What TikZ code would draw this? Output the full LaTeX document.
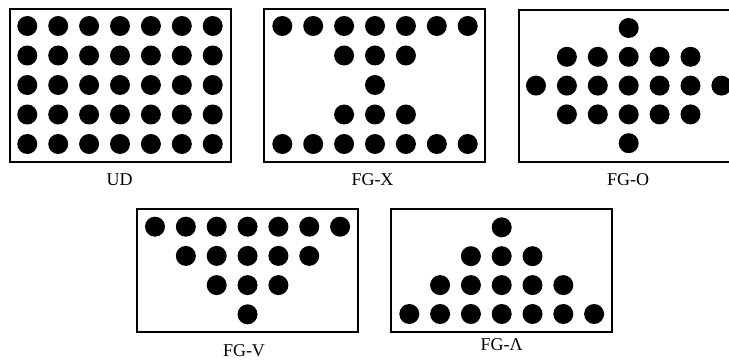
\documentclass[tikz,border=0pt]{standalone}
\usepackage{fontspec}
\setmainfont{Liberation Serif}
\usetikzlibrary{positioning}
\tikzset{
  panel/.style={draw=black, line width=2pt},
  peg/.style={fill=black},
  caption/.style={font=\fontsize{18}{22}\selectfont, inner sep=0pt, anchor=base},
}
\begin{document}
\begin{tikzpicture}[x=1pt,y=-1pt]
\clip (0,0) rectangle (729,363);
% UD
\draw[panel] (9.5,9.5) rectangle (231,162);
\foreach \r in {0,...,4}
  \foreach \c in {0,...,6}
    \fill[peg] (27.3+30.9*\c, 26+29.5*\r) circle (10pt);
\node[caption] (ud) at (119.7,185.5) {UD};
% FG-X
\draw[panel] (263.5,9.5) rectangle (485,162);
\foreach \r/\cols in {0/{0,...,6}, 1/{2,3,4}, 2/{3}, 3/{2,3,4}, 4/{0,...,6}}
  \foreach \c in \cols
    \fill[peg] (282.3+30.9*\c, 26+29.5*\r) circle (10pt);
\node[caption] (fgx) at (372.5,185.5) {FG-X};
% FG-O
\draw[panel] (518.5,10) rectangle (740,162);
\foreach \r/\cols in {0/{3}, 1/{1,...,5}, 2/{0,...,6}, 3/{1,...,5}, 4/{3}}
  \foreach \c in \cols
    \fill[peg] (536+30.9*\c, 28+28.8*\r) circle (10pt);
\node[caption] (fgo) at (628,185.5) {FG-O};
% FG-V
\draw[panel] (136.7,209) rectangle (357.7,331.7);
\foreach \r/\cols in {0/{0,...,6}, 1/{1,...,5}, 2/{2,3,4}, 3/{3}}
  \foreach \c in \cols
    \fill[peg] (155+30.85*\c, 226.7+29.2*\r) circle (10pt);
\node[caption] (fgv) at (244,356.5) {FG-V};
% FG-Lambda
\draw[panel] (391,209.3) rectangle (612.3,332.3);
\foreach \r/\cols in {0/{3}, 1/{2,3,4}, 2/{1,...,5}, 3/{0,...,6}}
  \foreach \c in \cols
    \fill[peg] (409.3+30.8*\c, 227.3+28.9*\r) circle (10pt);
\node[caption] (fgl) at (501.6,351) {FG-Λ};
\end{tikzpicture}
\end{document}
